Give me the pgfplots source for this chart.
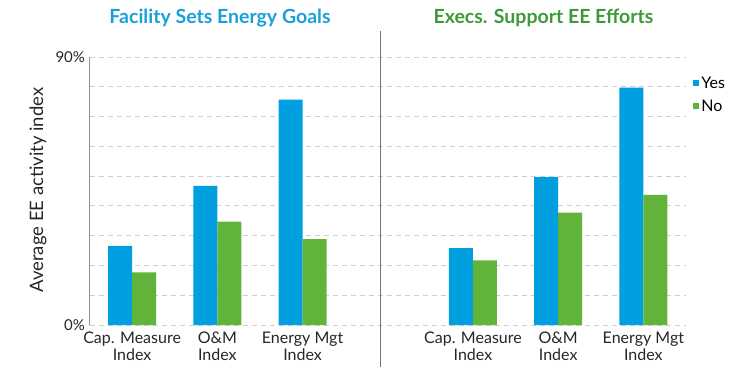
\documentclass[border=0pt]{standalone}
\usepackage{pgfplots}
\pgfplotsset{compat=1.18}
\usepackage{fontspec}
\setmainfont{Lato}
\definecolor{barblue}{HTML}{009FDF}
\definecolor{bargreen}{HTML}{62B33A}
\definecolor{titleblue}{HTML}{1A9FD9}
\definecolor{titlegreen}{HTML}{3E9A38}
\definecolor{gridgray}{HTML}{CFCFCF}
\begin{document}
\begin{tikzpicture}[x=1pt,y=1pt]
\path[use as bounding box] (0,0) rectangle (745,376);
\begin{axis}[
  at={(89.5pt,51pt)}, anchor=south west,
  scale only axis, width=596.5pt, height=268pt,
  xmin=-0.5, xmax=6.5, ymin=0, ymax=90,
  clip=false,
  axis line style={draw=none},
  major tick length=0pt,
  xtick={0,1,2,4,5,6},
  xticklabels={{Cap. Measure\\Index},{O\&M\\Index},{Energy Mgt\\Index},{Cap. Measure\\Index},{O\&M\\Index},{Energy Mgt\\Index}},
  xticklabel style={align=center, font=\fontsize{16}{17}\selectfont, text=black!85, yshift=-3pt},
  ytick={0,10,...,90},
  yticklabels={0\%,,,,,,,,,90\%},
  yticklabel style={font=\fontsize{15}{16}\selectfont, text=black!85, xshift=-1pt},
  ymajorgrids,
  grid style={gridgray, dash pattern=on 5pt off 4pt, line width=0.8pt},
  legend style={at={(rel axis cs:1.012,0.935)}, anchor=north west, draw=none, fill=none,
    font=\fontsize{16}{16}\selectfont, row sep=6pt, inner sep=0pt},
  legend image code/.code={\fill[#1] (0pt,-3pt) rectangle (6pt,3pt);},
  legend cell align=left,
]
\addplot[ybar, bar width=0.282, bar shift=-0.141, fill=barblue, draw=none] coordinates {
  (0,26.6) (1,46.7) (2,75.7) (4,25.8) (5,49.7) (6,79.7)};
\addplot[ybar, bar width=0.282, bar shift=0.141, fill=bargreen, draw=none] coordinates {
  (0,17.7) (1,34.7) (2,28.8) (4,21.7) (5,37.7) (6,43.7)};
\legend{Yes,No}
\draw[gridgray!70!black] (rel axis cs:0,0) -- (rel axis cs:0,1);
\draw[black!55, line width=0.8pt] (axis cs:2.91,98.7) -- (axis cs:2.91,-14.1);
\end{axis}
\node[font=\fontsize{19.5}{20}\selectfont\bfseries, text=titleblue] at (220,358) {Facility Sets Energy Goals};
\node[font=\fontsize{19.5}{20}\selectfont\bfseries, text=titlegreen] at (543.5,358) {Execs. Support EE Efforts};
\node[rotate=90, font=\fontsize{18.5}{19}\selectfont, text=black!85] at (38,186) {Average EE activity index};
\end{tikzpicture}
\end{document}
